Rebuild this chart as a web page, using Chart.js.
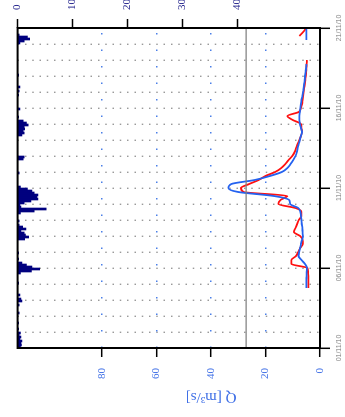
<!DOCTYPE html>
<html>
<head>
<meta charset="utf-8">
<script src="https://cdn.jsdelivr.net/npm/chart.js@4.4.1/dist/chart.umd.min.js"></script>
<style>
    html, body { margin: 0; padding: 0; background: #fff; }
    #wrap { position: relative; width: 345px; height: 417px; overflow: hidden; }
    /* the chart is drawn landscape and turned a quarter turn to the left */
    #hydroChart { position: absolute; left: 0; top: 0; transform-origin: 0 0; transform: translateY(417px) rotate(-90deg); }
</style>
</head>
<body>
<div id="wrap"><canvas id="hydroChart" width="417" height="345"></canvas></div>
<script>
// rain, 3-hourly, one row per day (mm)
const rainStep = 0.125;
const rain = [
    0.5, 0.7, 0.6, 0.8, 0.4, 0.6, 0.3, 0.5,
    0, 0.2, 0, 0, 0.2, 0, 0, 0,
    0, 0.3, 0, 0, 0, 0.3, 0, 0.8,
    0.6, 0, 0.4, 0, 0, 0, 0, 0,
    0.2, 0, 0, 0, 0, 0.5, 2.5, 4.0,
    2.6, 1.6, 0.8, 0, 0.2, 0, 0, 0.2,
    0, 0, 0, 0, 0, 0, 1.3, 2.0,
    1.4, 1.2, 0.6, 1.5, 0.9, 0.3, 0, 0.3,
    0, 0, 0, 0.5, 3.0, 5.2, 0.6, 0.4,
    1.2, 2.4, 3.7, 3.5, 3.7, 3.0, 2.6, 1.8,
    0.5, 0, 0, 0, 0, 0, 0, 0.3,
    0, 0, 0, 0, 0, 0, 1.0, 1.2,
    0, 0, 0, 0, 0, 0, 0, 0,
    0, 0, 0.8, 1.2, 1.0, 1.3, 1.2, 1.9,
    1.6, 1.0, 0, 0.2, 0, 0, 0, 0.4,
    0, 0, 0, 0, 0, 0, 0.2, 0,
    0.3, 0, 0.4, 0, 0, 0, 0, 0,
    0.2, 0, 0, 0, 0, 0, 0, 0,
    0, 0, 0, 0, 0, 0, 0, 0,
    0.4, 1.2, 2.2, 1.8, 0.3, 0, 0, 0
];

// discharge, 6-hourly from day 3.75 (m3/s)
const flowStart = 3.75;
const flowStep = 0.25;
const qObserved = [
    4.3, 4.3, 4.3, 4.3, 4.4, 4.6, 10.5, 10.5, 8.8, 8.0,
    7.3, 6.3, 6.4, 7.3, 9.6, 9.0, 8.4, 7.8, 6.8, 6.8,
    9.0, 15.3, 14.5, 12.0, 28.0, 29.0, 26.0, 22.5, 20.0, 16.5,
    14.2, 12.7, 11.5, 10.2, 9.3, 8.8, 8.2, 7.6, 7.0, 6.6,
    6.8, 7.0, 10.0, 12.0, 7.8, 7.0, 6.6, 6.4, 6.2, 6.0,
    5.8, 5.6, 5.4, 5.2, 5.1, 5.0, 4.9, 4.8, null, null,
    null, null, null, 7.6, 6.2, 5.0
];
const qSimulated = [
    5.0, 5.0, 5.0, 4.9, 4.9, 4.8, 5.5, 6.8, 7.9, 7.7,
    7.3, 7.0, 6.6, 6.3, 6.4, 6.5, 6.7, 6.8, 7.0, 7.2,
    8.0, 11.0, 11.3, 16.9, 30.0, 33.6, 32.5, 24.0, 18.4, 14.0,
    12.0, 10.8, 9.8, 9.0, 8.5, 8.2, 7.8, 7.4, 7.0, 6.6,
    7.0, 7.4, 7.6, 7.6, 7.4, 7.2, 7.0, 6.8, 6.5, 6.2,
    6.0, 5.8, 5.6, 5.5, 5.3, 5.1, 5.0, null, null, null,
    null, null, 5.0, 5.0, 5.0, 5.0
];
const qThreshold = 27.1;

const dayTicks = [0, 1, 2, 3, 4, 5, 6, 7, 8, 9, 10, 11, 12, 13, 14, 15, 16, 17, 18, 19, 20];
const dateLabels = ['01/11/10', '06/11/10', '11/11/10', '16/11/10', '21/11/10'];
const qTicks = [0, 20, 40, 60, 80];
const rainTicks = [0, 10, 20, 30, 40];

function toPoints(values, start, step, centre) {
    let pts = [];
    for (let i = 0; i < values.length; i++) {
        pts.push({ x: start + (i + centre) * step, y: values[i] });
    }
    return pts;
}

const frameAndTitle = {
    id: 'frameAndTitle',
    afterDraw: function (chart) {
        const ctx = chart.ctx;
        const a = chart.chartArea;
        ctx.save();
        ctx.strokeStyle = '#000';
        ctx.lineWidth = 2;
        ctx.strokeRect(a.left, a.top, a.right - a.left, a.bottom - a.top);
        /* axis title sits over the labelled part of the Q axis */
        const q = chart.scales.q;
        const yMid = (q.getPixelForValue(0) + q.getPixelForValue(80)) / 2;
        ctx.translate(20, yMid);
        ctx.rotate(-Math.PI / 2);
        ctx.fillStyle = '#3f6fe6';
        ctx.font = '15px "Liberation Serif"';
        ctx.textAlign = 'center';
        ctx.textBaseline = 'middle';
        ctx.fillText('Q [m\u00b3/s]', 0, 0);
        ctx.restore();
    }
};

var ctx = document.getElementById('hydroChart').getContext('2d');
var hydroChart = new Chart(ctx, {
    type: 'bar',
    data: {
        datasets: [{
            type: 'line',
            label: 'threshold',
            data: [{ x: 0, y: qThreshold }, { x: 20, y: qThreshold }],
            yAxisID: 'q',
            borderColor: '#808080',
            borderWidth: 1.2,
            pointRadius: 0
        }, {
            type: 'line',
            label: 'simulated',
            data: toPoints(qSimulated, flowStart, flowStep, 0),
            yAxisID: 'q',
            borderColor: '#2462f0',
            borderWidth: 1.8,
            pointRadius: 0,
            spanGaps: false,
            cubicInterpolationMode: 'monotone'
        }, {
            type: 'line',
            label: 'observed',
            data: toPoints(qObserved, flowStart, flowStep, 0),
            yAxisID: 'q',
            borderColor: '#ff1010',
            borderWidth: 1.8,
            pointRadius: 0,
            spanGaps: false,
            cubicInterpolationMode: 'monotone'
        }, {
            type: 'bar',
            label: 'rain',
            data: toPoints(rain, 0, rainStep, 0.5),
            yAxisID: 'p',
            backgroundColor: '#00007f',
            borderWidth: 0,
            barPercentage: 1,
            categoryPercentage: 1,
            grouped: false
        }]
    },
    options: {
        responsive: false,
        animation: false,
        devicePixelRatio: 1,
        layout: { padding: { top: 13, left: 0, right: 0, bottom: 0 } },
        plugins: { legend: { display: false }, tooltip: { enabled: false } },
        scales: {
            x: {
                type: 'linear',
                min: 0,
                max: 20,
                offset: false,
                afterFit: function (s) { s.height = 25; },
                afterBuildTicks: function (s) { s.ticks = dayTicks.map(v => ({ value: v })); },
                border: { display: false, dash: [1.5, 5.8] },
                grid: {
                    offset: false,
                    color: c => (c.tick && (c.tick.value === 0 || c.tick.value === 20)) ? 'rgba(0,0,0,0)' : '#9a9a9a',
                    lineWidth: 1.4,
                    tickLength: 10,
                    tickWidth: 1.5,
                    tickColor: c => (c.tick && c.tick.value % 5 === 0) ? '#000' : 'rgba(0,0,0,0)'
                },
                ticks: {
                    autoSkip: false,
                    maxRotation: 0,
                    minRotation: 0,
                    padding: 5,
                    color: '#888',
                    font: { family: 'Liberation Sans', size: 7 },
                    callback: v => (v % 5 === 0) ? dateLabels[v / 5] : ''
                }
            },
            q: {
                type: 'linear',
                position: 'left',
                min: 0,
                max: 111,
                afterFit: function (s) { s.width = 69; },
                afterBuildTicks: function (s) { s.ticks = qTicks.map(v => ({ value: v })); },
                border: { display: false, dash: [1.5, 15] },
                grid: {
                    color: c => (c.tick && c.tick.value === 0) ? 'rgba(0,0,0,0)' : '#4a7fe8',
                    lineWidth: 1.4,
                    tickLength: 9,
                    tickWidth: 1.5,
                    tickColor: '#000'
                },
                ticks: {
                    padding: 11,
                    color: '#3f6fe6',
                    font: { family: 'Liberation Serif', size: 11 }
                }
            },
            p: {
                type: 'linear',
                position: 'right',
                reverse: true,
                min: 0,
                max: 55,
                afterFit: function (s) { s.width = 28; },
                afterBuildTicks: function (s) { s.ticks = rainTicks.map(v => ({ value: v })); },
                border: { display: false },
                grid: {
                    drawOnChartArea: false,
                    tickLength: 9,
                    tickWidth: 1.5,
                    tickColor: '#000'
                },
                ticks: {
                    padding: 9,
                    color: '#1f1f8a',
                    font: { family: 'Liberation Serif', size: 11 }
                }
            }
        }
    },
    plugins: [frameAndTitle]
});
</script>
</body>
</html>
